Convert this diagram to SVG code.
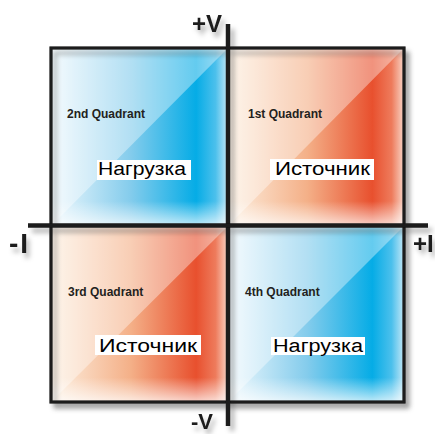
<svg xmlns="http://www.w3.org/2000/svg" width="435" height="434" viewBox="0 0 435 434">
<style>
.ql{font-family:"Liberation Sans",Arial,sans-serif;font-weight:bold;font-size:12px;fill:#231f20}
.bl{font-family:"Liberation Sans",Arial,sans-serif;font-size:18px;fill:#000}
.ax{font-family:"Liberation Sans",Arial,sans-serif;font-weight:bold;fill:#1a1a1a}
.box{fill:#fff}
.tri{fill:#fff;fill-opacity:0.38}
.fade{fill:url(#fadeV)}
.line{stroke:#1a1a1a;fill:none}
</style>
<defs>
<linearGradient id="blueH" x1="0" y1="0" x2="1" y2="0">
<stop offset="0" stop-color="#eef8fd"/>
<stop offset="0.45" stop-color="#84ccec"/>
<stop offset="0.82" stop-color="#05ace6"/>
<stop offset="0.93" stop-color="#4cc0ec"/>
<stop offset="1" stop-color="#c4e8f7"/>
</linearGradient>
<linearGradient id="orangeH" x1="0" y1="0" x2="1" y2="0">
<stop offset="0" stop-color="#fdefdf"/>
<stop offset="0.45" stop-color="#f4b088"/>
<stop offset="0.82" stop-color="#e8502e"/>
<stop offset="0.93" stop-color="#ee7b5c"/>
<stop offset="1" stop-color="#f9d6c8"/>
</linearGradient>
<linearGradient id="fadeV" x1="0" y1="0" x2="0" y2="1">
<stop offset="0" stop-color="#fff" stop-opacity="0.4"/>
<stop offset="0.05" stop-color="#fff" stop-opacity="0"/>
<stop offset="0.86" stop-color="#fff" stop-opacity="0"/>
<stop offset="1" stop-color="#fff" stop-opacity="0.75"/>
</linearGradient>
<filter id="sh" x="-10%" y="-10%" width="130%" height="130%">
<feDropShadow dx="4" dy="5" stdDeviation="2.5" flood-color="#000" flood-opacity="0.3"/>
</filter>
<filter id="tsh" x="-30%" y="-30%" width="180%" height="180%">
<feDropShadow dx="3" dy="5" stdDeviation="2.5" flood-color="#000" flood-opacity="0.3"/>
</filter>
</defs>

<g id="frame-shadow" filter="url(#sh)">
<rect x="51" y="48" width="353" height="354" fill="#fff"/>
</g>

<g id="q2">
<rect x="51" y="48" width="177" height="178" fill="url(#blueH)"/>
<rect class="fade" x="51" y="48" width="177" height="178"/>
<polygon class="tri" points="51,48 228,48 51,226"/>
<text class="ql" x="67" y="118">2nd Quadrant</text>
<rect class="box" x="97" y="160" width="94" height="20"/>
<text class="bl" x="98" y="175" textLength="88" lengthAdjust="spacingAndGlyphs">Нагрузка</text>
</g>

<g id="q1">
<rect x="228" y="48" width="176" height="178" fill="url(#orangeH)"/>
<rect class="fade" x="228" y="48" width="176" height="178"/>
<polygon class="tri" points="228,48 404,48 228,226"/>
<text class="ql" x="248" y="118">1st Quadrant</text>
<rect class="box" x="270" y="159" width="104" height="21"/>
<text class="bl" x="275" y="175" textLength="95" lengthAdjust="spacingAndGlyphs">Источник</text>
</g>

<g id="q3">
<rect x="51" y="226" width="177" height="176" fill="url(#orangeH)"/>
<rect class="fade" x="51" y="226" width="177" height="176"/>
<polygon class="tri" points="51,226 228,226 51,402"/>
<text class="ql" x="68" y="296">3rd Quadrant</text>
<rect class="box" x="95" y="335" width="106" height="20"/>
<text class="bl" x="99" y="352" textLength="98" lengthAdjust="spacingAndGlyphs">Источник</text>
</g>

<g id="q4">
<rect x="228" y="226" width="176" height="176" fill="url(#blueH)"/>
<rect class="fade" x="228" y="226" width="176" height="176"/>
<polygon class="tri" points="228,226 404,226 228,402"/>
<text class="ql" x="245" y="296">4th Quadrant</text>
<rect class="box" x="271" y="337" width="94" height="18"/>
<text class="bl" x="273" y="352" textLength="90" lengthAdjust="spacingAndGlyphs">Нагрузка</text>
</g>

<g id="connectors" filter="url(#sh)">
<rect class="line" x="51" y="48" width="353" height="354" stroke-width="3.2"/>
<line class="line" x1="228" y1="24" x2="228" y2="426" stroke-width="4.5"/>
<line class="line" x1="28" y1="225.5" x2="428" y2="225.5" stroke-width="4.5"/>
</g>

<g id="labels" filter="url(#tsh)">
<text class="ax" x="192" y="32" font-size="24">+V</text>
<text class="ax" x="191" y="429" font-size="22">-V</text>
<text class="ax" x="9" y="253" font-size="28" letter-spacing="2">-I</text>
<text class="ax" x="413" y="252" font-size="24">+I</text>
</g>
</svg>
